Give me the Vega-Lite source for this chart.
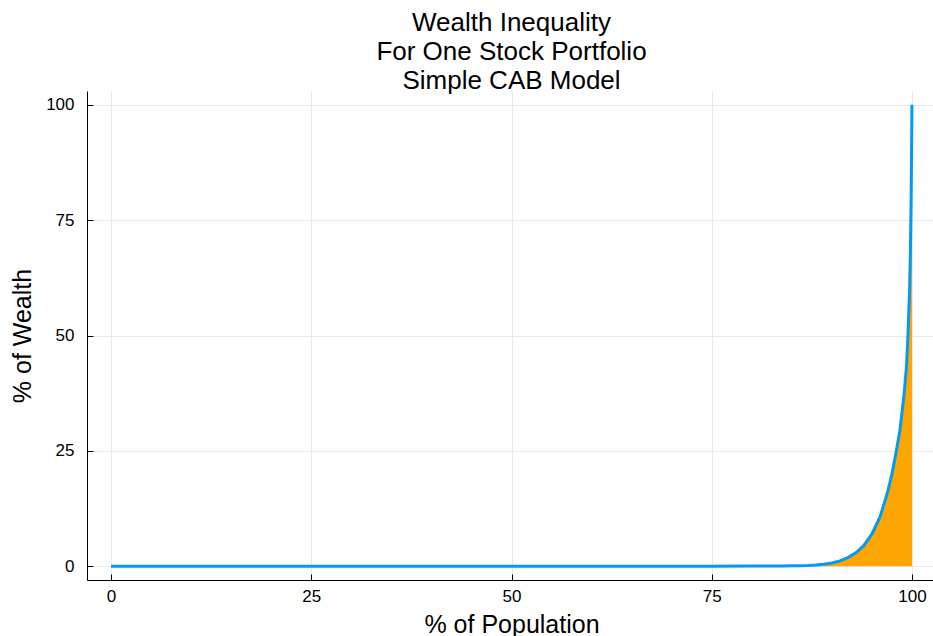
{
  "$schema": "https://vega.github.io/schema/vega-lite/v6.json",
  "width": 849,
  "height": 489,
  "autosize": {"type": "none"},
  "padding": {"left": 87, "top": 91, "right": 0, "bottom": 56},
  "background": "white",
  "config": {
    "view": {"stroke": null},
    "font": "Liberation Sans",
    "axis": {
      "domainColor": "black",
      "domainWidth": 1,
      "tickColor": "black",
      "tickWidth": 1,
      "tickSize": -6,
      "gridColor": "#e8e8e8",
      "gridWidth": 1,
      "labelFontSize": 17,
      "labelColor": "black",
      "titleFontSize": 25,
      "titleFontWeight": "normal",
      "titleColor": "black"
    }
  },
  "title": {
    "text": ["Wealth Inequality", "For One Stock Portfolio", "Simple CAB Model"],
    "fontSize": 26,
    "fontWeight": "normal",
    "lineHeight": 29,
    "anchor": "middle",
    "baseline": "bottom",
    "offset": 0,
    "dy": 29,
    "color": "black"
  },
  "data": {
    "values": [
      {"population": 0, "wealth": 0},
      {"population": 10, "wealth": 0},
      {"population": 20, "wealth": 0},
      {"population": 30, "wealth": 0},
      {"population": 40, "wealth": 0},
      {"population": 50, "wealth": 0},
      {"population": 60, "wealth": 0},
      {"population": 70, "wealth": 0},
      {"population": 75, "wealth": 0},
      {"population": 80, "wealth": 0.01},
      {"population": 82, "wealth": 0.02},
      {"population": 84, "wealth": 0.05},
      {"population": 85, "wealth": 0.07},
      {"population": 86, "wealth": 0.1},
      {"population": 87, "wealth": 0.15},
      {"population": 88, "wealth": 0.25},
      {"population": 89, "wealth": 0.42},
      {"population": 90, "wealth": 0.7},
      {"population": 91, "wealth": 1.15},
      {"population": 92, "wealth": 1.85},
      {"population": 93, "wealth": 2.9},
      {"population": 94, "wealth": 4.5},
      {"population": 95, "wealth": 7.0},
      {"population": 96, "wealth": 10.6},
      {"population": 97, "wealth": 16.3},
      {"population": 97.5, "wealth": 20},
      {"population": 98, "wealth": 24.5},
      {"population": 98.5, "wealth": 29.5},
      {"population": 99, "wealth": 37},
      {"population": 99.3, "wealth": 43},
      {"population": 99.5, "wealth": 50},
      {"population": 99.7, "wealth": 60},
      {"population": 99.8, "wealth": 68},
      {"population": 99.9, "wealth": 80},
      {"population": 100, "wealth": 100}
    ]
  },
  "encoding": {
    "x": {
      "field": "population",
      "type": "quantitative",
      "scale": {"domain": [-3, 103], "nice": false, "zero": false},
      "axis": {
        "values": [0, 25, 50, 75, 100],
        "title": "% of Population",
        "labelPadding": 14,
        "titleX": 424.5,
        "titleY": 52,
        "titleBaseline": "alphabetic",
        "titleAlign": "center"
      }
    },
    "y": {
      "field": "wealth",
      "type": "quantitative",
      "scale": {"domain": [-3, 103], "nice": false, "zero": false},
      "axis": {
        "values": [0, 25, 50, 75, 100],
        "title": "% of Wealth",
        "labelPadding": 19,
        "titleX": -65,
        "titleY": 244.5,
        "titleAngle": -90,
        "titleBaseline": "middle",
        "titleAlign": "center"
      }
    }
  },
  "layer": [
    {"mark": {"type": "area", "color": "#FFA500", "opacity": 1}},
    {"mark": {"type": "line", "color": "#009AFA", "strokeWidth": 3}}
  ]
}
